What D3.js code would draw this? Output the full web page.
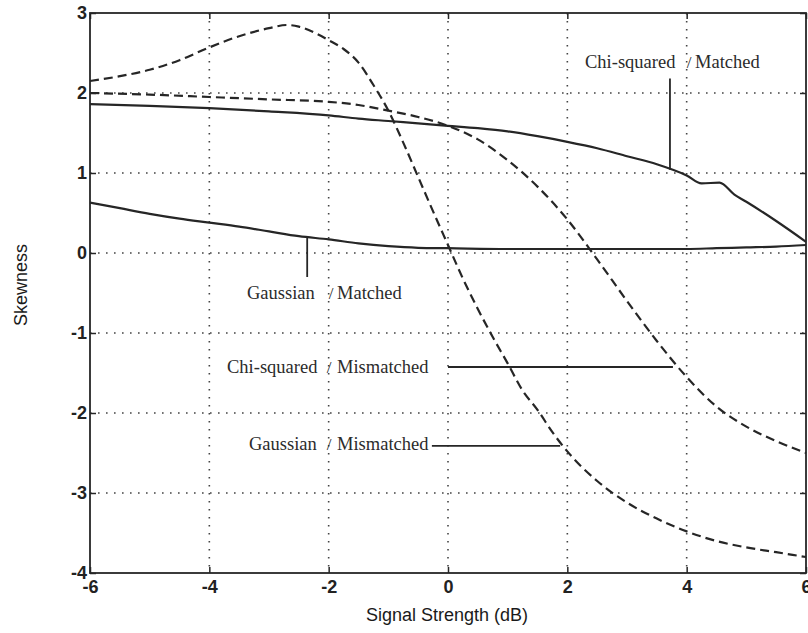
<!DOCTYPE html>
<html>
<head>
<meta charset="utf-8">
<script src="https://cdn.jsdelivr.net/npm/d3@7"></script>
<style>
  html, body { margin: 0; padding: 0; background: #fff; }
  svg { display: block; }
</style>
</head>
<body>
<script>
// ---------- data ----------
const xTicks = [-6, -4, -2, 0, 2, 4, 6];
const yTicks = [-4, -3, -2, -1, 0, 1, 2, 3];
const xGrid = [-4, -2, 0, 2, 4];
const yGrid = [-3, -2, -1, 0, 1, 2];

const gaussMatchedX = [-6, -5.5, -5, -4.5, -4, -3.5, -3, -2.5, -2, -1.5, -1, -0.5, 0, 1, 2, 3, 4, 4.5, 5, 5.5, 6];
const gaussMatchedY = [0.63, 0.56, 0.49, 0.43, 0.38, 0.33, 0.27, 0.21, 0.17, 0.12, 0.085, 0.065, 0.06, 0.05, 0.05, 0.05, 0.05, 0.06, 0.07, 0.08, 0.10];

const chiMatchedX = [-6, -5, -4, -3, -2, -1.5, -1, -0.5, 0, 0.5, 1, 1.5, 2, 2.5, 3, 3.5, 4, 4.25, 4.55, 4.8, 5, 5.5, 6];
const chiMatchedY = [1.86, 1.84, 1.81, 1.77, 1.72, 1.68, 1.65, 1.62, 1.59, 1.56, 1.52, 1.46, 1.39, 1.31, 1.21, 1.11, 0.97, 0.87, 0.88, 0.73, 0.64, 0.40, 0.14];

const chiMismatchedX = [-6, -5, -4, -3, -2, -1.5, -1, -0.5, 0, 0.5, 1, 1.5, 2, 2.5, 3, 3.5, 4, 4.5, 5, 5.5, 6];
const chiMismatchedY = [2.0, 1.98, 1.95, 1.92, 1.89, 1.85, 1.78, 1.70, 1.59, 1.42, 1.16, 0.83, 0.42, -0.08, -0.6, -1.1, -1.55, -1.92, -2.17, -2.35, -2.5];

const gaussMismatchedX = [-6, -5.5, -5, -4.5, -4, -3.5, -3, -2.7, -2.5, -2.2, -2, -1.75, -1.5, -1.25, -1, -0.75, -0.5, -0.25, 0, 0.25, 0.5, 0.75, 1, 1.25, 1.5, 1.75, 2, 2.5, 3, 3.5, 4, 4.5, 5, 5.5, 6];
const gaussMismatchedY = [2.15, 2.21, 2.29, 2.41, 2.57, 2.71, 2.81, 2.85, 2.83, 2.74, 2.66, 2.55, 2.38, 2.1, 1.78, 1.38, 0.95, 0.52, 0.1, -0.32, -0.7, -1.05, -1.38, -1.72, -1.96, -2.24, -2.48, -2.85, -3.12, -3.32, -3.48, -3.6, -3.68, -3.74, -3.8];

const xLabel = "Signal Strength (dB)";
const yLabel = "Skewness";

// annotation labels: [left word, slash, right word]
const labelWords = [
  ["Chi-squared", "/", "Matched"],
  ["Gaussian", "/", "Matched"],
  ["Chi-squared", "/", "Mismatched"],
  ["Gaussian", "/", "Mismatched"]
];

// ---------- layout ----------
const W = 808, H = 633;
const padL = 90, padR = 806, padT = 13, padB = 573;

const svg = d3.select("body").append("svg").attr("width", W).attr("height", H);
svg.append("rect").attr("width", W).attr("height", H).attr("fill", "#fff");

const x = d3.scaleLinear().domain([-6, 6]).range([padL, padR]);
const y = d3.scaleLinear().domain([-4, 3]).range([padB, padT]);

const ink = "#262626";

// grid
const g = svg.append("g");
g.selectAll(".gx").data(xGrid).enter().append("line")
  .attr("x1", d => x(d)).attr("x2", d => x(d)).attr("y1", padT).attr("y2", padB)
  .attr("stroke", "#444").attr("stroke-width", 1.6).attr("stroke-dasharray", "1.6,6.4");
g.selectAll(".gy").data(yGrid).enter().append("line")
  .attr("y1", d => y(d)).attr("y2", d => y(d)).attr("x1", padL).attr("x2", padR)
  .attr("stroke", "#444").attr("stroke-width", 1.6).attr("stroke-dasharray", "1.6,6.4");

// axes
const tickFont = "Liberation Sans, Arial, sans-serif";
const fmt = d => String(d);
const axB = svg.append("g").attr("transform", `translate(0,${padB})`)
  .call(d3.axisBottom(x).tickValues(xTicks).tickSize(-6).tickPadding(7).tickFormat(fmt));
const axL = svg.append("g").attr("transform", `translate(${padL},0)`)
  .call(d3.axisLeft(y).tickValues(yTicks).tickSize(-6).tickPadding(3).tickFormat(fmt));
const axT = svg.append("g").attr("transform", `translate(0,${padT})`)
  .call(d3.axisTop(x).tickValues(xTicks).tickSize(-6).tickFormat(""));
const axR = svg.append("g").attr("transform", `translate(${padR},0)`)
  .call(d3.axisRight(y).tickValues(yTicks).tickSize(-6).tickFormat(""));
[axB, axL, axT, axR].forEach(a => {
  a.select(".domain").remove();
  a.selectAll(".tick line").attr("stroke", ink).attr("stroke-width", 1.5);
  a.selectAll(".tick text").attr("fill", "#222").style("font-family", tickFont)
    .style("font-size", "18px").style("font-weight", "bold");
});
axL.selectAll(".tick text").attr("dy", "0.3em");

// frame
svg.append("rect").attr("x", padL).attr("y", padT).attr("width", padR - padL).attr("height", padB - padT)
  .attr("fill", "none").attr("stroke", ink).attr("stroke-width", 1.8);

// curves
const line = d3.line().x(d => x(d[0])).y(d => y(d[1])).curve(d3.curveMonotoneX);
const zip = (a, b) => a.map((v, i) => [v, b[i]]);
const series = [
  { xs: gaussMatchedX, ys: gaussMatchedY, dash: null },
  { xs: chiMatchedX, ys: chiMatchedY, dash: null },
  { xs: chiMismatchedX, ys: chiMismatchedY, dash: "9,5" },
  { xs: gaussMismatchedX, ys: gaussMismatchedY, dash: "9,5" }
];
series.forEach(s => {
  svg.append("path").datum(zip(s.xs, s.ys))
    .attr("d", line).attr("fill", "none").attr("stroke", ink)
    .attr("stroke-width", 2.2).attr("stroke-dasharray", s.dash)
    .attr("stroke-linejoin", "round");
});

// leader lines (data coords)
const leaders = [
  [[3.72, 2.18], [3.72, 1.04]],
  [[-2.36, 0.2], [-2.36, -0.3]],
  [[0.0, -1.425], [3.77, -1.425]],
  [[-0.27, -2.41], [1.88, -2.41]]
];
leaders.forEach(l => {
  svg.append("line").attr("x1", x(l[0][0])).attr("y1", y(l[0][1]))
    .attr("x2", x(l[1][0])).attr("y2", y(l[1][1]))
    .attr("stroke", ink).attr("stroke-width", 1.8);
});

// annotation text (pixel layout)
const labelPos = [
  { x0: 585, xs: 689, x2: 695, yb: 68 },
  { x0: 247, xs: 331, x2: 337, yb: 299 },
  { x0: 227, xs: 329, x2: 337, yb: 373 },
  { x0: 249, xs: 329, x2: 337, yb: 450 }
];
const serif = "Liberation Serif, Times New Roman, serif";
labelWords.forEach((w, i) => {
  const p = labelPos[i];
  const t = svg.append("g").style("font-family", serif).style("font-size", "18.5px").attr("fill", "#2b2b2b");
  t.append("text").attr("x", p.x0).attr("y", p.yb).text(w[0]);
  t.append("text").attr("x", p.xs).attr("y", p.yb).attr("text-anchor", "middle").style("font-size", "17px").text(w[1]);
  t.append("text").attr("x", p.x2).attr("y", p.yb).text(w[2]);
});

// axis titles
svg.append("text").attr("x", 447).attr("y", 621).attr("text-anchor", "middle")
  .style("font-family", tickFont).style("font-size", "18px").attr("fill", "#1a1a1a").text(xLabel);
svg.append("text").attr("transform", "translate(27,285) rotate(-90)").attr("text-anchor", "middle")
  .style("font-family", tickFont).style("font-size", "18px").attr("fill", "#1a1a1a").text(yLabel);
</script>
</body>
</html>
